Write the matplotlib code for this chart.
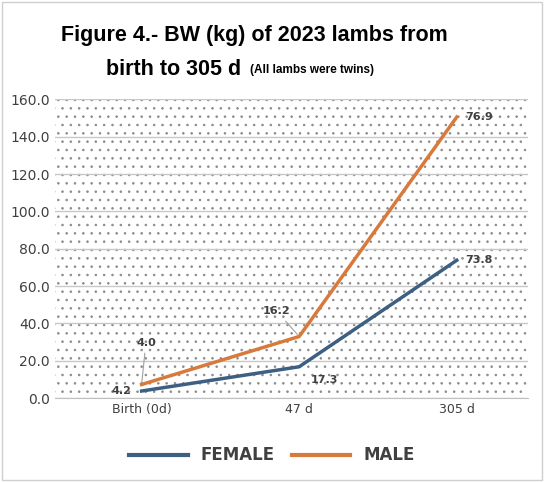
import matplotlib
matplotlib.use("Agg")
import matplotlib.pyplot as plt
from matplotlib.patches import Rectangle

categories = ["Birth (0d)", "47 d", "305 d"]
female = [3.8, 16.8, 73.8]
male = [7.3, 33.0, 150.5]
female_labels = ["4.2", "17.3", "73.8"]
male_labels = ["4.0", "16.2", "76.9"]
yticks = [0, 20, 40, 60, 80, 100, 120, 140, 160]

BLUE = "#3d5f82"
ORANGE = "#d77a3c"
plt.rcParams["hatch.color"] = "#8a8a8a"
plt.rcParams["hatch.linewidth"] = 0.6

fig = plt.figure(figsize=(5.44, 4.82), dpi=100)
fig.patches.append(Rectangle((0.004, 0.004), 0.992, 0.992, transform=fig.transFigure,
                             fill=False, ec="#cfcfcf", lw=1))
ax = fig.add_axes([0.101, 0.174, 0.869, 0.62])
ax.add_patch(Rectangle((0, 0), 1, 1, transform=ax.transAxes, fc="white",
                       ec="#8a8a8a", lw=0, hatch="..", zorder=0))
x = range(len(categories))
ax.plot(x, female, color=BLUE, lw=2.5, zorder=3)
ax.plot(x, male, color=ORANGE, lw=2.5, zorder=3)
ax.set_xlim(-0.55, 2.45)
ax.set_ylim(0, 160)
ax.set_yticks(yticks)
ax.set_yticklabels([f"{v:.1f}" for v in yticks], fontsize=10, color="#404040")
ax.set_xticks(list(x))
ax.set_xticklabels(categories, fontsize=9, color="#404040")
ax.tick_params(length=0)
ax.grid(axis="y", color="#c8c8c8", lw=1)
ax.set_axisbelow(True)
for s in ["top", "right", "left"]:
    ax.spines[s].set_visible(False)
ax.spines["bottom"].set_color("#bfbfbf")

lab = dict(fontsize=8, fontweight="bold", color="#404040")
ax.annotate(female_labels[0], (0, female[0]), xytext=(-22, 0), textcoords="offset points", va="center", **lab)
ax.annotate(male_labels[0], (0, male[0]), xytext=(-4, 28), textcoords="offset points",
            arrowprops=dict(arrowstyle="-", color="#a0a0a0", lw=0.8), **lab)
ax.annotate(female_labels[1], (1, female[1]), xytext=(8, -12), textcoords="offset points", **lab)
ax.annotate(male_labels[1], (1, male[1]), xytext=(-26, 16), textcoords="offset points",
            arrowprops=dict(arrowstyle="-", color="#a0a0a0", lw=0.8), **lab)
ax.annotate(female_labels[2], (2, female[2]), xytext=(6, 0), textcoords="offset points", va="center", **lab)
ax.annotate(male_labels[2], (2, male[2]), xytext=(6, 0), textcoords="offset points", va="center", **lab)

fig.text(0.112, 0.915, "Figure 4.- BW (kg) of 2023 lambs from", fontsize=15.5,
         fontweight="bold", fontfamily="Liberation Sans")
fig.text(0.195, 0.845, "birth to 305 d", fontsize=15.5, fontweight="bold",
         fontfamily="Liberation Sans")
fig.text(0.46, 0.848, "(All lambs were twins)", fontsize=8.5, fontweight="bold",
         fontfamily="Liberation Sans")

h1, = ax.plot([], [], color=BLUE, lw=3)
h2, = ax.plot([], [], color=ORANGE, lw=3)
fig.legend([h1, h2], ["FEMALE", "MALE"], loc="center", bbox_to_anchor=(0.5, 0.055),
           ncol=2, frameon=False, handlelength=3.5, columnspacing=1.0,
           prop=dict(size=12, weight="bold"), labelcolor="#404040")
fig.savefig("out.png", dpi=100)
